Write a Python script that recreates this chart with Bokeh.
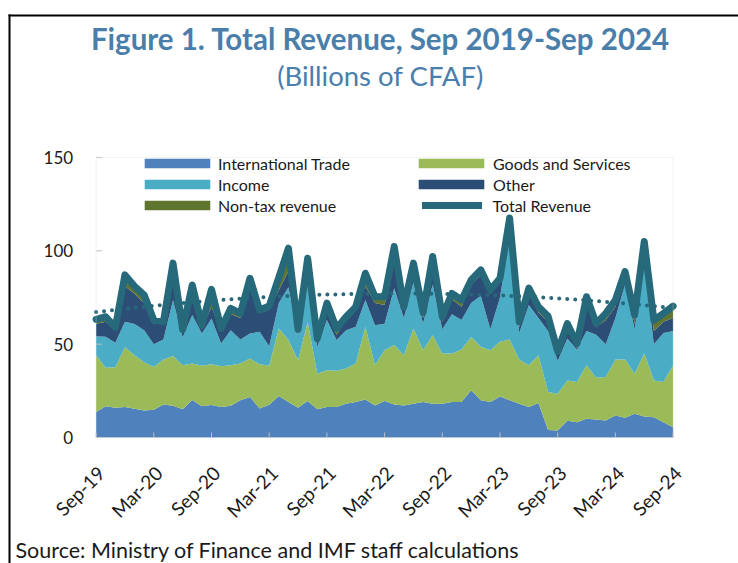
import numpy as np
from bokeh.plotting import figure
from bokeh.models import (ColumnDataSource, Legend, LegendItem, Range1d, Label,
                          BoxAnnotation)
from bokeh.embed import file_html
from bokeh.resources import INLINE
from bokeh.core.properties import value

# ---- data (billions of CFAF), monthly Sep-19 .. Sep-24 ----
months = list(range(61))
international_trade = [13.6, 16.8, 15.9, 16.3, 15.4, 14.5, 14.9, 17.7, 17.0, 15.2,
                       20.1, 16.7, 17.4, 16.3, 17.0, 19.9, 21.7, 15.6, 17.6, 22.2,
                       19.0, 15.9, 19.5, 15.1, 16.3, 16.3, 18.1, 19.0, 20.3, 17.2,
                       19.5, 17.7, 17.2, 18.1, 19.0, 18.1, 18.1, 19.0, 19.0, 25.3,
                       19.9, 19.0, 22.0, 20.0, 18.1, 16.3, 18.5, 4.0, 3.8, 9.0,
                       8.2, 10.0, 9.7, 9.1, 11.8, 10.6, 12.7, 11.3, 10.9, 8.2, 5.5]
goods_services = [30.5, 20.5, 21.7, 32.1, 28.7, 25.8, 22.9, 24.1, 26.7, 23.5,
                  19.5, 21.7, 21.8, 21.9, 21.7, 19.7, 20.6, 23.6, 20.8, 36.2,
                  33.2, 25.5, 42.5, 19.1, 19.7, 19.4, 18.8, 20.6, 39.0, 21.5,
                  27.3, 31.8, 26.8, 40.3, 27.8, 36.7, 26.9, 26.0, 28.1, 28.6,
                  28.7, 27.8, 29.3, 32.5, 23.7, 22.4, 25.6, 20.4, 19.7, 21.6,
                  21.5, 28.7, 22.3, 23.3, 30.0, 31.2, 21.5, 33.7, 19.7, 21.5, 33.2]
income = [10.2, 16.7, 13.1, 13.6, 16.7, 17.2, 12.2, 10.7, 30.0, 14.9,
          26.0, 17.3, 24.6, 12.2, 18.8, 12.9, 13.4, 17.4, 10.5, 13.6,
          28.3, 13.6, 20.0, 14.4, 27.0, 16.5, 20.6, 19.7, 14.4, 21.5,
          14.2, 30.5, 20.0, 24.6, 14.2, 27.2, 13.0, 21.0, 15.9, 18.1,
          27.4, 11.2, 23.7, 55.5, 14.2, 32.3, 19.9, 32.6, 17.5, 22.4,
          17.3, 18.3, 23.0, 17.6, 22.2, 40.2, 23.8, 48.0, 19.4, 26.3, 18.3]
other = [6.7, 8.0, 6.3, 19.0, 16.2, 14.5, 11.0, 8.5, 11.3, 3.0,
         9.4, 2.3, 6.2, 6.2, 8.5, 11.5, 26.3, 9.9, 19.7, 7.0,
         8.5, 2.0, 7.0, 2.4, 5.0, 2.8, 5.5, 8.7, 7.3, 11.8,
         10.0, 17.0, 4.0, 7.0, 3.0, 11.0, 4.0, 8.0, 7.0, 10.0,
         11.0, 19.0, 8.0, 5.0, 3.0, 6.0, 3.0, 5.0, 3.0, 5.0,
         1.0, 14.0, 4.0, 13.0, 6.0, 4.0, 3.0, 7.0, 7.0, 6.0, 7.0]
non_tax = [2.3, 2.7, 2.0, 6.1, 4.0, 4.3, 1.9, 1.0, 8.4, 1.3,
           6.7, 2.2, 9.4, 1.8, 3.2, 2.5, 3.3, 1.8, 1.8, 6.8,
           12.4, 1.0, 7.0, 2.0, 4.0, 3.4, 1.7, 2.0, 7.0, 3.4,
           4.4, 5.3, 2.0, 3.4, 3.0, 4.0, 2.7, 3.2, 3.7, 2.4,
           2.8, 2.0, 2.3, 4.6, 3.0, 3.0, 3.0, 3.0, 2.0, 3.0,
           2.4, 4.4, 2.1, 3.5, 3.7, 2.9, 4.6, 5.0, 5.9, 4.5, 6.4]

tick_months = [0, 6, 12, 18, 24, 30, 36, 42, 48, 54, 60]
tick_labels = ["Sep-19", "Mar-20", "Sep-20", "Mar-21", "Sep-21", "Mar-22",
               "Sep-22", "Mar-23", "Sep-23", "Mar-24", "Sep-24"]
y_ticks = [0, 50, 100, 150]
y_tick_labels = ["0", "50", "100", "150"]
Y_MIN, Y_MAX = 0, 150

series_names = ["International Trade", "Goods and Services", "Income", "Other", "Non-tax revenue"]
series_keys = ["it", "gs", "inc", "oth", "ntr"]
series_colors = ["#4F81BD", "#9BBB59", "#4BACC6", "#2C4D75", "#5F7530"]
TEAL = "#26697A"
TITLE_BLUE = "#4A7EAB"
GRID_GREY = "#D9D9D9"
TICK_GREY = "#BFBFBF"
TEXT = "#1A1A1A"
FONT = "Lato"

# ---- page layout (pixels) ----
W, H = 738, 563
PLOT_LEFT, PLOT_RIGHT, PLOT_TOP, PLOT_BOTTOM = 95.6, 672.6, 157.0, 437.0

px_per_month = (PLOT_RIGHT - PLOT_LEFT) / (months[-1] - months[0])
px_per_unit = (PLOT_BOTTOM - PLOT_TOP) / (Y_MAX - Y_MIN)
x_start = months[0] - PLOT_LEFT / px_per_month
y_start = Y_MIN - (H - PLOT_BOTTOM) / px_per_unit

total = (np.array(international_trade) + np.array(goods_services) + np.array(income)
         + np.array(other) + np.array(non_tax))
trend = np.polyval(np.polyfit(months, total, 2), months)

source = ColumnDataSource(dict(x=months, it=international_trade, gs=goods_services,
                               inc=income, oth=other, ntr=non_tax, total=total, trend=trend))

p = figure(width=W, height=H, output_backend="svg", toolbar_location=None,
           x_range=Range1d(x_start, x_start + W / px_per_month),
           y_range=Range1d(y_start, y_start + H / px_per_unit),
           x_axis_location=None, y_axis_location=None, min_border=0)
p.background_fill_color = "white"
p.border_fill_color = "white"
p.outline_line_color = None
p.grid.visible = False

areas = p.varea_stack(stackers=series_keys, x="x", color=series_colors, source=source)

# plot-area frame and tick marks
p.add_layout(BoxAnnotation(left=months[0], right=months[-1], bottom=Y_MIN, top=Y_MAX,
                           fill_alpha=0, line_color=GRID_GREY, line_width=1))
p.segment(x0=tick_months, x1=tick_months, y0=[Y_MIN] * len(tick_months),
          y1=[Y_MIN + 5 / px_per_unit] * len(tick_months), line_color=TICK_GREY, line_width=1)
p.segment(x0=[months[0]] * len(y_ticks), x1=[months[0] + 6 / px_per_month] * len(y_ticks),
          y0=y_ticks, y1=y_ticks, line_color=TICK_GREY, line_width=1)

trend_r = p.line("x", "trend", source=source, line_color=TEAL, line_width=4,
                 line_dash="0 8", line_cap="round")
total_r = p.line("x", "total", source=source, line_color=TEAL, line_width=7,
                 line_join="round", line_cap="round")

# tick labels
p.text(x=tick_months, y=[Y_MIN] * len(tick_months), text=tick_labels, angle=np.pi / 4,
       text_align="right", text_baseline="middle", x_offset=5, y_offset=32,
       text_font=value(FONT), text_font_size="19px", text_color=TEXT)
p.text(x=[months[0]] * len(y_ticks), y=y_ticks, text=y_tick_labels,
       text_align="right", text_baseline="middle", x_offset=-23, y_offset=0,
       text_font=value(FONT), text_font_size="17px", text_color=TEXT)

# legends (three blocks so that swatches line up with the reference)
common = dict(orientation="vertical", glyph_height=12, spacing=1, padding=0, margin=0,
              label_height=20, label_text_font=FONT, label_text_font_size="16px",
              label_text_color=TEXT, border_line_alpha=0, background_fill_alpha=0)
ROW3_BOTTOM = 215   # page y of the bottom of the last legend row
ROW_STEP = 21
leg1 = Legend(items=[LegendItem(label=series_names[0], renderers=[areas[0]]),
                     LegendItem(label=series_names[2], renderers=[areas[2]]),
                     LegendItem(label=series_names[4], renderers=[areas[4]])],
              location=(136, H - ROW3_BOTTOM), glyph_width=82, label_standoff=0, **common)
leg2 = Legend(items=[LegendItem(label=series_names[1], renderers=[areas[1]]),
                     LegendItem(label=series_names[3], renderers=[areas[3]])],
              location=(410, H - ROW3_BOTTOM + ROW_STEP), glyph_width=82, label_standoff=1,
              **common)
leg3 = Legend(items=[LegendItem(label="Total Revenue", renderers=[total_r])],
              location=(421.5, H - ROW3_BOTTOM), glyph_width=60, label_standoff=11,
              **common)
for lg in (leg1, leg2, leg3):
    p.add_layout(lg)

# titles and source note (screen px from the bottom-left corner)
p.add_layout(Label(x=380, y=H - 38, x_units="screen", y_units="screen",
                   text="Figure 1. Total Revenue, Sep 2019-Sep 2024", text_align="center",
                   text_baseline="alphabetic", text_font=FONT, text_font_style="bold",
                   text_font_size="29.5px", text_color=TITLE_BLUE))
p.add_layout(Label(x=380, y=H - 75, x_units="screen", y_units="screen",
                   text="(Billions of CFAF)", text_align="center",
                   text_baseline="alphabetic", text_font=FONT,
                   text_font_size="27.5px", text_color=TITLE_BLUE))
p.add_layout(Label(x=15, y=H - 549, x_units="screen", y_units="screen",
                   text="Source: Ministry of Finance and IMF staff calculations", text_align="left",
                   text_baseline="alphabetic", text_font=FONT,
                   text_font_size="21.5px", text_color=TEXT))

# outer black frame: left and top edges (the rest lies beyond the window)
p.add_layout(BoxAnnotation(left=8, right=10, top=H - 14, bottom=-100,
                           left_units="screen", right_units="screen",
                           top_units="screen", bottom_units="screen",
                           fill_color="black", fill_alpha=1, line_alpha=0))
p.add_layout(BoxAnnotation(left=8, right=W + 100, top=H - 14, bottom=H - 16,
                           left_units="screen", right_units="screen",
                           top_units="screen", bottom_units="screen",
                           fill_color="black", fill_alpha=1, line_alpha=0))

open("out.html", "w").write(file_html(p, INLINE))
